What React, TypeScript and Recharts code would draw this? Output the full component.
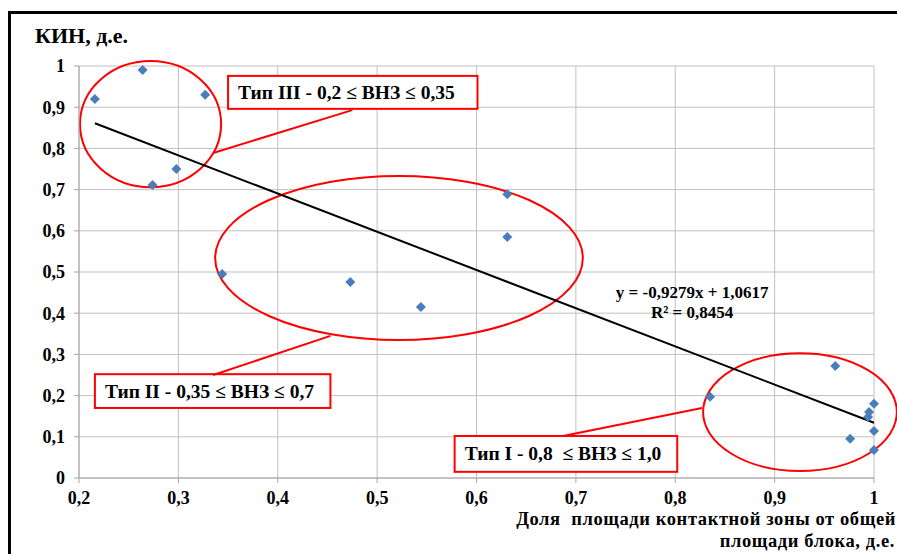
import React from 'react';
import {
  ScatterChart,
  Scatter,
  XAxis,
  YAxis,
  CartesianGrid,
  ReferenceArea,
  ReferenceLine,
  ReferenceDot,
} from 'recharts';

// доля площади контактной зоны (x) и КИН (y)
const shareX = [0.216, 0.264, 0.327, 0.274, 0.298, 0.344, 0.473, 0.544, 0.631, 0.631, 0.835, 0.961, 0.976, 0.995, 0.994, 1.0, 1.0, 1.0];
const kinY = [0.92, 0.99, 0.93, 0.711, 0.75, 0.495, 0.476, 0.415, 0.689, 0.585, 0.197, 0.272, 0.095, 0.16, 0.148, 0.18, 0.114, 0.068];

// концы линии тренда y = -0,9279x + 1,0617
const trendX = [0.216, 1.0];
const trendY = [0.861, 0.134];

const xTicks = [0.2, 0.3, 0.4, 0.5, 0.6, 0.7, 0.8, 0.9, 1];
const yTicks = [0, 0.1, 0.2, 0.3, 0.4, 0.5, 0.6, 0.7, 0.8, 0.9, 1];

const equationText = 'y = -0,9279x + 1,0617';
const r2Text = 'R² = 0,8454';

// группы (эллипсы) в координатах данных
const groups = [
  { x1: 0.201, x2: 0.343, y1: 0.706, y2: 1.012 },
  { x1: 0.337, x2: 0.707, y1: 0.335, y2: 0.733 },
  { x1: 0.828, x2: 1.023, y1: 0.017, y2: 0.303 },
];

// подписи типов
const typeLabels = [
  { text: 'Тип III - 0,2 ≤ ВНЗ ≤ 0,35', x1: 0.35, x2: 0.601, y1: 0.896, y2: 0.976 },
  { text: 'Тип II - 0,35 ≤ ВНЗ ≤ 0,7', x1: 0.216, x2: 0.453, y1: 0.17, y2: 0.252 },
  { text: 'Тип I - 0,8  ≤ ВНЗ ≤ 1,0', x1: 0.578, x2: 0.802, y1: 0.015, y2: 0.102 },
];

// выноски
const leaders = [
  [{ x: 0.335, y: 0.789 }, { x: 0.475, y: 0.893 }],
  [{ x: 0.335, y: 0.25 }, { x: 0.453, y: 0.345 }],
  [{ x: 0.687, y: 0.102 }, { x: 0.827, y: 0.17 }],
];

const points = shareX.map((x, i) => ({ x, y: kinY[i] }));
const trend = trendX.map((x, i) => ({ x, y: trendY[i] }));

const FONT = '"Liberation Serif", "Times New Roman", serif';
const RED = '#ff0000';

const fmt = (v: number) => String(Number(v.toFixed(1))).replace('.', ',');

const Diamond = (props: any) => {
  const { cx, cy } = props;
  const h = 5;
  return (
    <polygon
      points={`${cx},${cy - h} ${cx + h},${cy} ${cx},${cy + h} ${cx - h},${cy}`}
      fill="#4a7ebb"
    />
  );
};

const EllipseShape = (p: any) => (
  <ellipse
    cx={p.x + p.width / 2}
    cy={p.y + p.height / 2}
    rx={Math.abs(p.width) / 2}
    ry={Math.abs(p.height) / 2}
    fill="none"
    stroke={RED}
    strokeWidth={2}
  />
);

const makeBox = (text: string) => (p: any) => (
  <g>
    <rect x={p.x} y={p.y} width={p.width} height={p.height} fill="#fff" stroke={RED} strokeWidth={2} />
    <text
      x={p.x + 10}
      y={p.y + p.height / 2 + 6.5}
      fontFamily={FONT}
      fontWeight="bold"
      fontSize={19.5}
      fill="#000"
      style={{ whiteSpace: 'pre' }}
    >
      {text}
    </text>
  </g>
);

const EquationShape = (p: any) => (
  <g fontFamily={FONT} fontWeight="bold" fontSize={17} fill="#000">
    <text x={p.cx} y={p.cy} textAnchor="middle">{equationText}</text>
    <text x={p.cx} y={p.cy + 20} textAnchor="middle">{r2Text}</text>
  </g>
);

const tickStyle = { fontFamily: FONT, fontWeight: 'bold' as const, fontSize: 18, fill: '#000' };

export default function App() {
  return (
    <div style={{ position: 'absolute', left: 0, top: 0, width: 897, height: 554, overflow: 'hidden', background: '#fff' }}>
      <div
        style={{
          position: 'absolute',
          left: 8,
          top: 11,
          width: 1200,
          height: 1200,
          borderTop: '3px solid #000',
          borderLeft: '3px solid #000',
        }}
      />
      <div style={{ position: 'absolute', left: 0, top: 0 }}>
        <ScatterChart width={897} height={554} margin={{ top: 66, right: 23, bottom: 46, left: 19 }}>
          <CartesianGrid stroke="#c0c0c0" strokeWidth={1} />
          <XAxis
            type="number"
            dataKey="x"
            domain={[0.2, 1]}
            ticks={xTicks}
            tickFormatter={fmt}
            height={30}
            stroke="#a6a6a6"
            tickSize={5}
            tickMargin={8}
            tick={tickStyle}
            interval={0}
          />
          <YAxis
            type="number"
            dataKey="y"
            domain={[0, 1]}
            ticks={yTicks}
            tickFormatter={fmt}
            width={60}
            stroke="#a6a6a6"
            tickSize={5}
            tickMargin={9}
            tick={tickStyle}
            interval={0}
          />
          {groups.map((g, i) => (
            <ReferenceArea key={`g${i}`} x1={g.x1} x2={g.x2} y1={g.y1} y2={g.y2} ifOverflow="visible" shape={EllipseShape} />
          ))}
          {leaders.map((seg, i) => (
            <ReferenceLine key={`l${i}`} segment={seg} stroke={RED} strokeWidth={2} ifOverflow="visible" />
          ))}
          <Scatter
            data={trend}
            line={{ stroke: '#000', strokeWidth: 2 }}
            shape={() => <g />}
            isAnimationActive={false}
          />
          <Scatter data={points} shape={Diamond} isAnimationActive={false} />
          {typeLabels.map((b, i) => (
            <ReferenceArea key={`b${i}`} x1={b.x1} x2={b.x2} y1={b.y1} y2={b.y2} ifOverflow="visible" shape={makeBox(b.text)} />
          ))}
          <ReferenceDot x={0.817} y={0.437} r={0} ifOverflow="visible" shape={EquationShape} />
        </ScatterChart>
      </div>
      <svg width={897} height={554} style={{ position: 'absolute', left: 0, top: 0, pointerEvents: 'none' }}>
        <text x={35} y={43} fontFamily={FONT} fontWeight="bold" fontSize={22} fill="#000">
          КИН, д.е.
        </text>
        <g fontFamily={FONT} fontWeight="bold" fontSize={18.5} fill="#000" textAnchor="end" letterSpacing={0.6}>
          <text x={896} y={525} style={{ whiteSpace: 'pre' }}>Доля  площади контактной зоны от общей</text>
          <text x={895} y={547}>площади блока, д.е.</text>
        </g>
      </svg>
    </div>
  );
}
